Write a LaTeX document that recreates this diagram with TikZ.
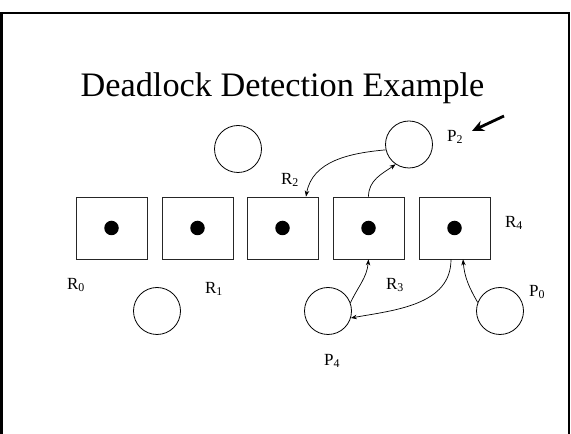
\documentclass[tikz,border=0pt]{standalone}
\usepackage{fontspec}
\setmainfont{Liberation Serif}
\usetikzlibrary{calc,arrows.meta}
\newcommand{\lblsub}[2]{#1\textsubscript{#2}}
\begin{document}
\begin{tikzpicture}[x=1pt,y=1pt,
  resbox/.style={draw=black!85,line width=0.8pt,rectangle,minimum width=71pt,minimum height=62pt,inner sep=0pt},
  proc/.style={draw=black,line width=0.8pt,circle,minimum size=47pt,inner sep=0pt},
  dot/.style={fill=black,circle,minimum size=14.5pt,inner sep=0pt},
  lbl/.style={font=\fontsize{17}{18}\selectfont,inner sep=0pt},
  conn/.style={line width=0.7pt,-{Stealth[length=6pt,width=4.5pt]}},
  bigarrow/.style={line width=2.8pt,-{Stealth[length=12pt,width=11pt]}}]
\useasboundingbox (0,0) rectangle (571,434);
\draw[line width=2.6pt] (1.5,-20) -- (1.5,421) -- (569,421) -- (569,-20);
\node[font=\fontsize{34.3}{36}\selectfont,anchor=base,inner sep=0pt] (title) at (282.5,337) {Deadlock Detection Example};
% resources
\node[resbox] (r0) at (111.5,206) {};
\node[resbox] (r1) at (197.5,206) {};
\node[resbox] (r2) at (282.5,206) {};
\node[resbox] (r3) at (368.5,206) {};
\node[resbox] (r4) at (454.5,206) {};
\node[dot] (d0) at (r0.center) {};
\node[dot] (d1) at (r1.center) {};
\node[dot] (d2) at (r2.center) {};
\node[dot] (d3) at (r3.center) {};
\node[dot] (d4) at (r4.center) {};
% processes
\node[proc] (p1) at (238,285) {};
\node[proc] (p2) at (409,289.5) {};
\node[proc] (p3) at (157,123) {};
\node[proc] (p4) at (328,123) {};
\node[proc] (p0) at (500,123) {};
% labels
\node[lbl] (lp2) at (455,297) {\lblsub{P}{2}};
\node[lbl] (lr2) at (290,254) {\lblsub{R}{2}};
\node[lbl] (lr4) at (514,211) {\lblsub{R}{4}};
\node[lbl] (lr0) at (76,149) {\lblsub{R}{0}};
\node[lbl] (lr1) at (214,145) {\lblsub{R}{1}};
\node[lbl] (lr3) at (395,149) {\lblsub{R}{3}};
\node[lbl] (lp4) at (332,73) {\lblsub{P}{4}};
\node[lbl] (lp0) at (537,142) {\lblsub{P}{0}};
% connectors
\draw[conn] (p2.193) to[out=185,in=80] ($(r2.north)+(23.5,0)$);
\draw[conn] (r3.north) to[out=90,in=215] (p2.236);
\draw[conn] (p4.20) to[out=65,in=-95] (r3.south);
\draw[conn] ($(r4.south)+(-3.5,0)$) to[out=-90,in=10] (p4.-17);
\draw[conn] (p0.159) to[out=120,in=-85] ($(r4.south)+(8.5,0)$);
\coordinate (ta) at (504,318);
\coordinate (tb) at (472,303);
\draw[bigarrow] (ta) -- (tb);
\end{tikzpicture}
\end{document}
